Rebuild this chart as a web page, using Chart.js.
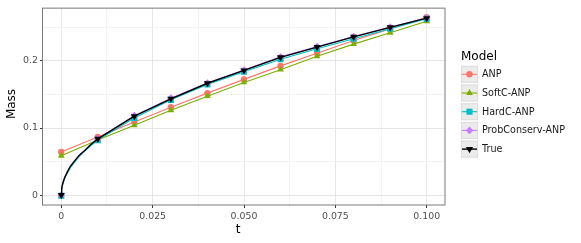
<!DOCTYPE html>
<html>
<head>
<meta charset="utf-8">
<script src="https://cdn.jsdelivr.net/npm/chart.js@4.4.1/dist/chart.umd.min.js"></script>
<style>
html,body{margin:0;padding:0;background:#fff;}
#wrap{width:581px;height:243px;position:relative;}
</style>
</head>
<body>
<div id="wrap"><canvas id="c" width="581" height="243"></canvas></div>
<script>
// ---- data ----
const seriesNames = ['ANP', 'SoftC-ANP', 'HardC-ANP', 'ProbConserv-ANP', 'True'];
const tMarkers = [0, 0.01, 0.02, 0.03, 0.04, 0.05, 0.06, 0.07, 0.08, 0.09, 0.1];
const tFine = [0.0001, 0.0003, 0.0006, 0.001, 0.0017, 0.0025, 0.0035, 0.005, 0.0065, 0.008];

const anpValues   = [0.0642, 0.0868, 0.1090, 0.1310, 0.1520, 0.1725, 0.1926, 0.2113, 0.2304, 0.2475, 0.2650];
const softcValues = [0.0588, 0.0820, 0.1040, 0.1265, 0.1475, 0.1680, 0.1870, 0.2070, 0.2250, 0.2420, 0.2590];
const hardcValues = [-0.001, 0.0820, 0.1150, 0.1420, 0.1650, 0.1840, 0.2025, 0.2180, 0.2330, 0.2480, 0.2630];
const probValues  = [0.0000, 0.0840, 0.1185, 0.1445, 0.1672, 0.1865, 0.2060, 0.2215, 0.2365, 0.2505, 0.2640];
const trueValues  = [0.0000, 0.0838, 0.1176, 0.1436, 0.1667, 0.1858, 0.2054, 0.2206, 0.2358, 0.2500, 0.2637];

const hardcFine = [0.008, 0.014, 0.020, 0.026, 0.033, 0.041, 0.048, 0.058, 0.066, 0.073];
const probFine  = [0.009, 0.015, 0.021, 0.027, 0.035, 0.043, 0.050, 0.060, 0.067, 0.075];
const trueFine  = [0.009, 0.015, 0.021, 0.027, 0.035, 0.043, 0.050, 0.060, 0.067, 0.075];

const xMajor = [0, 0.025, 0.05, 0.075, 0.1];
const xTickLabels = ['0', '0.025', '0.050', '0.075', '0.100'];
const xMinor = [0.0125, 0.0375, 0.0625, 0.0875];
const yMajor = [0, 0.1, 0.2];
const yTickLabels = ['0', '0.1', '0.2'];
const yMinor = [0.05, 0.15, 0.25];

// ---- styles ----
const colors = ['#F8766D', '#7CAE00', '#00BFC4', '#C77CFF', '#000000'];
const shapes = ['circle', 'triangle', 'rect', 'rectRot', 'triangle'];
const rotations = [0, 0, 0, 0, 180];
const radii = [3.2, 3.9, 4.3, 3.8, 4.1];

function pts(ts, vs) { return ts.map((t, i) => ({x: t, y: vs[i], m: true})); }
function withFine(ts, vs, fts, fvs) {
  const a = pts(ts, vs).concat(fts.map((t, i) => ({x: t, y: fvs[i], m: false})));
  a.sort((p, q) => p.x - q.x);
  return a;
}
const dataSets = [
  pts(tMarkers, anpValues),
  pts(tMarkers, softcValues),
  withFine(tMarkers, hardcValues, tFine, hardcFine),
  withFine(tMarkers, probValues, tFine, probFine),
  withFine(tMarkers, trueValues, tFine, trueFine)
];

const datasets = seriesNames.map((name, i) => ({
  label: name,
  data: dataSets[i],
  borderColor: colors[i],
  backgroundColor: colors[i],
  borderWidth: i === 4 ? 1.4 : 1.1,
  pointStyle: shapes[i],
  rotation: rotations[i],
  pointRadius: ctx => (ctx.raw && ctx.raw.m) ? radii[i] : 0,
  pointHoverRadius: ctx => (ctx.raw && ctx.raw.m) ? radii[i] : 0,
  pointBorderWidth: 0,
  tension: 0,
  order: 5 - i
}));

const isMajorX = v => xMajor.some(m => Math.abs(m - v) < 1e-9);
const isMajorY = v => yMajor.some(m => Math.abs(m - v) < 1e-9);

function drawMarker(ctx, shape, rot, x, y, r, color) {
  ctx.save();
  ctx.fillStyle = color;
  ctx.beginPath();
  if (shape === 'circle') {
    ctx.arc(x, y, r, 0, Math.PI * 2);
  } else if (shape === 'rect') {
    const s = r * Math.SQRT1_2;
    ctx.rect(x - s, y - s, 2 * s, 2 * s);
  } else if (shape === 'rectRot') {
    ctx.moveTo(x, y - r); ctx.lineTo(x + r, y); ctx.lineTo(x, y + r); ctx.lineTo(x - r, y);
  } else if (shape === 'triangle') {
    let a = rot * Math.PI / 180;
    for (let k = 0; k < 3; k++) {
      const px = x + Math.sin(a) * r, py = y - Math.cos(a) * r;
      if (k === 0) ctx.moveTo(px, py); else ctx.lineTo(px, py);
      a += 2 * Math.PI / 3;
    }
  }
  ctx.closePath();
  ctx.fill();
  ctx.restore();
}

const decor = {
  id: 'decor',
  afterDraw(chart) {
    const ctx = chart.ctx;
    const a = chart.chartArea;
    ctx.save();
    // panel border
    ctx.strokeStyle = '#7a7a7a';
    ctx.lineWidth = 1;
    ctx.strokeRect(a.left - 0.5, a.top + 0.5, a.right - a.left + 0.5, a.bottom - a.top - 0.5);
    // axis titles
    ctx.fillStyle = '#000';
    ctx.font = '12px "DejaVu Sans"';
    ctx.textAlign = 'center';
    ctx.textBaseline = 'middle';
    ctx.fillText('t', 238, 230);
    ctx.save();
    ctx.translate(12, 104);
    ctx.rotate(-Math.PI / 2);
    ctx.fillText('Mass', 0, 0);
    ctx.restore();
    // legend
    ctx.textAlign = 'left';
    ctx.font = '12px "DejaVu Sans"';
    ctx.fillText('Model', 461, 57);
    ctx.font = '9.6px "DejaVu Sans"';
    for (let i = 0; i < seriesNames.length; i++) {
      const cy = 74.3 + i * 18.7;
      const bx = 461, bw = 17, bh = 17;
      ctx.fillStyle = '#ebebeb';
      ctx.fillRect(bx, cy - bh / 2, bw, bh);
      ctx.strokeStyle = '#dcdcdc';
      ctx.lineWidth = 1;
      ctx.strokeRect(bx + 0.5, cy - bh / 2 + 0.5, bw - 1, bh - 1);
      ctx.strokeStyle = colors[i];
      ctx.lineWidth = i === 4 ? 1.4 : 1.1;
      ctx.beginPath();
      ctx.moveTo(bx + 1, cy);
      ctx.lineTo(bx + bw - 1, cy);
      ctx.stroke();
      drawMarker(ctx, shapes[i], rotations[i], bx + bw / 2, cy, radii[i], colors[i]);
      ctx.fillStyle = '#1a1a1a';
      ctx.fillText(seriesNames[i], 482, cy + 0.5);
    }
    ctx.restore();
  }
};

new Chart(document.getElementById('c'), {
  type: 'line',
  data: { datasets },
  plugins: [decor],
  options: {
    responsive: false,
    animation: false,
    events: [],
    layout: { padding: { left: 0, top: 5, right: 136, bottom: 0 } },
    plugins: { legend: { display: false }, tooltip: { enabled: false } },
    scales: {
      x: {
        type: 'linear',
        min: -0.005,
        max: 0.105,
        afterBuildTicks: s => { s.ticks = xMajor.concat(xMinor).sort((p, q) => p - q).map(v => ({value: v})); },
        afterFit: s => { s.height = 38; },
        border: { display: false },
        grid: {
          color: c => isMajorX(c.tick.value) ? '#e6e6e6' : '#f3f3f3',
          lineWidth: 1,
          tickColor: c => isMajorX(c.tick.value) ? '#333333' : 'rgba(0,0,0,0)',
          tickLength: 3,
          drawTicks: true
        },
        ticks: {
          autoSkip: false,
          maxRotation: 0,
          padding: 3,
          color: '#4d4d4d',
          font: { family: 'DejaVu Sans', size: 9.4 },
          callback: v => { const k = xMajor.findIndex(m => Math.abs(m - v) < 1e-9); return k >= 0 ? xTickLabels[k] : ''; }
        }
      },
      y: {
        type: 'linear',
        min: -0.0147,
        max: 0.2794,
        afterBuildTicks: s => { s.ticks = yMajor.concat(yMinor).sort((p, q) => p - q).map(v => ({value: v})); },
        afterFit: s => { s.width = 43; },
        border: { display: false },
        grid: {
          color: c => isMajorY(c.tick.value) ? '#e6e6e6' : '#f3f3f3',
          lineWidth: 1,
          tickColor: c => isMajorY(c.tick.value) ? '#333333' : 'rgba(0,0,0,0)',
          tickLength: 3,
          drawTicks: true
        },
        ticks: {
          autoSkip: false,
          padding: 2,
          color: '#4d4d4d',
          font: { family: 'DejaVu Sans', size: 9.4 },
          callback: v => { const k = yMajor.findIndex(m => Math.abs(m - v) < 1e-9); return k >= 0 ? yTickLabels[k] : ''; }
        }
      }
    }
  }
});
</script>
</body>
</html>
